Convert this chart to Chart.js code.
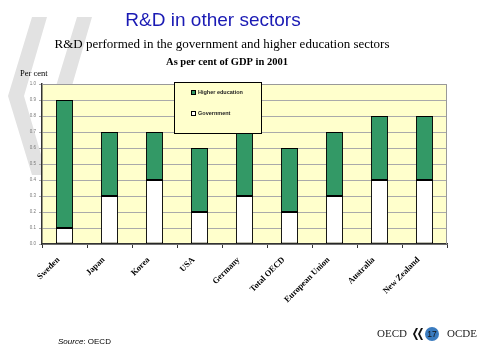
<!DOCTYPE html>
<html>
<head>
<meta charset="utf-8">
<script src="https://cdn.jsdelivr.net/npm/chart.js@4/dist/chart.umd.min.js"></script>
<style>
  html, body { margin: 0; padding: 0; background: #fff; }
  #wrap { width: 483px; height: 348px; position: relative; }
</style>
</head>
<body>
<div id="wrap"><canvas id="rdChart" width="483" height="348"></canvas></div>
<script>
// R&D by sector, per cent of GDP, 2001
const categories = ['Sweden', 'Japan', 'Korea', 'USA', 'Germany', 'Total OECD', 'European Union', 'Australia', 'New Zealand'];
const government = [0.1, 0.3, 0.4, 0.2, 0.3, 0.2, 0.3, 0.4, 0.4];
const higherEducation = [0.8, 0.4, 0.3, 0.4, 0.4, 0.4, 0.4, 0.4, 0.4];
const yMin = 0, yMax = 1.0, yStep = 0.1;

const GREEN = '#339966';
const PLOT_BG = '#ffffcc';

// grey OECD chevrons behind everything, plot background on top of them
const backdrop = {
    id: 'backdrop',
    beforeDraw(chart) {
        const ctx = chart.ctx;
        ctx.save();
        ctx.fillStyle = '#e2e2e2';
        [0, 45].forEach(dx => {
            ctx.beginPath();
            ctx.moveTo(32 + dx, 17);
            ctx.lineTo(47 + dx, 17);
            ctx.lineTo(24 + dx, 96);
            ctx.lineTo(47 + dx, 175);
            ctx.lineTo(32 + dx, 175);
            ctx.lineTo(8 + dx, 96);
            ctx.closePath();
            ctx.fill();
        });
        const a = chart.chartArea;
        ctx.fillStyle = PLOT_BG;
        ctx.fillRect(a.left, a.top, a.right - a.left, a.bottom - a.top);
        ctx.restore();
    },
    beforeDatasetsDraw(chart) {
        const a = chart.chartArea;
        const ctx = chart.ctx;
        ctx.save();
        ctx.strokeStyle = '#999';
        ctx.lineWidth = 1;
        ctx.beginPath();
        ctx.moveTo(a.left, a.top + 0.5);
        ctx.lineTo(a.right - 0.5, a.top + 0.5);
        ctx.lineTo(a.right - 0.5, a.bottom);
        ctx.stroke();
        ctx.restore();
    }
};

// titles, boxed legend, source line and page logo
const decor = {
    id: 'decor',
    afterDraw(chart) {
        const ctx = chart.ctx;
        ctx.save();
        ctx.textBaseline = 'middle';
        ctx.textAlign = 'center';

        ctx.fillStyle = '#1a1ab4';
        ctx.font = '19px "Liberation Sans", Arial, sans-serif';
        ctx.fillText('R&D in other sectors', 213, 21);

        ctx.fillStyle = '#000';
        ctx.font = '13px "Liberation Serif", "Times New Roman", serif';
        ctx.fillText('R&D performed in the government and higher education sectors', 222, 45);
        ctx.font = 'bold 10.5px "Liberation Serif", "Times New Roman", serif';
        ctx.fillText('As per cent of GDP in 2001', 227, 62);

        ctx.textAlign = 'left';
        ctx.font = '8.5px "Liberation Serif", "Times New Roman", serif';
        ctx.fillText('Per cent', 20, 74);

        // legend box
        ctx.fillStyle = PLOT_BG;
        ctx.fillRect(174.5, 82.5, 87, 51);
        ctx.strokeStyle = '#000';
        ctx.lineWidth = 1;
        ctx.strokeRect(174.5, 82.5, 87, 51);
        const items = [
            { label: chart.data.datasets[1].label, color: GREEN, y: 92.5 },
            { label: chart.data.datasets[0].label, color: '#fff', y: 113.5 }
        ];
        ctx.font = 'bold 5.5px "Liberation Sans", Arial, sans-serif';
        items.forEach(it => {
            ctx.fillStyle = it.color;
            ctx.fillRect(191.5, it.y - 2, 4, 4);
            ctx.strokeRect(191.5, it.y - 2, 4, 4);
            ctx.fillStyle = '#222';
            ctx.fillText(it.label, 198, it.y);
        });

        // source
        ctx.fillStyle = '#000';
        ctx.font = 'italic 8px "Liberation Sans", Arial, sans-serif';
        ctx.fillText('Source', 58, 342);
        const w = ctx.measureText('Source').width;
        ctx.font = '8px "Liberation Sans", Arial, sans-serif';
        ctx.fillText(': OECD', 58 + w, 342);

        // OECD logo line
        ctx.font = '11px "Liberation Serif", "Times New Roman", serif';
        ctx.fillStyle = '#222';
        ctx.fillText('OECD', 377, 334);
        ctx.fillText('OCDE', 447, 334);
        ctx.fillStyle = '#111';
        [413, 418].forEach(x => {
            ctx.beginPath();
            ctx.moveTo(x + 3, 328);
            ctx.lineTo(x + 5, 328);
            ctx.lineTo(x + 2, 334);
            ctx.lineTo(x + 5, 340);
            ctx.lineTo(x + 3, 340);
            ctx.lineTo(x, 334);
            ctx.closePath();
            ctx.fill();
        });
        ctx.fillStyle = '#3a7bbf';
        ctx.beginPath();
        ctx.arc(432, 334, 7, 0, Math.PI * 2);
        ctx.fill();
        ctx.fillStyle = '#111';
        ctx.textAlign = 'center';
        ctx.font = '8.5px "Liberation Sans", Arial, sans-serif';
        ctx.fillText('17', 432, 334.5);
        ctx.restore();
    }
};

const ctx = document.getElementById('rdChart').getContext('2d');
new Chart(ctx, {
    type: 'bar',
    data: {
        labels: categories,
        datasets: [
            {
                label: 'Government',
                data: government,
                backgroundColor: '#ffffff',
                borderColor: '#000',
                borderWidth: 1,
                borderSkipped: false,
                barPercentage: 0.38,
                categoryPercentage: 1
            },
            {
                label: 'Higher education',
                data: higherEducation,
                backgroundColor: GREEN,
                borderColor: '#000',
                borderWidth: 1,
                borderSkipped: false,
                barPercentage: 0.38,
                categoryPercentage: 1
            }
        ]
    },
    options: {
        responsive: false,
        animation: false,
        layout: { padding: { top: 84, right: 36, left: 0, bottom: 0 } },
        plugins: {
            legend: { display: false },
            tooltip: { enabled: false }
        },
        scales: {
            x: {
                stacked: true,
                afterFit(scale) { scale.height = 104; },
                grid: {
                    offset: true,
                    drawOnChartArea: false,
                    drawTicks: true,
                    tickLength: 4,
                    color: '#333'
                },
                border: { color: '#333', width: 1.5 },
                ticks: {
                    color: '#000',
                    maxRotation: 45,
                    minRotation: 45,
                    autoSkip: false,
                    padding: 7,
                    labelOffset: -6,
                    font: { family: '"Liberation Serif", "Times New Roman", serif', size: 8.5, weight: 'bold' }
                }
            },
            y: {
                stacked: true,
                min: yMin,
                max: yMax,
                afterFit(scale) { scale.width = 42; },
                grid: {
                    color: '#aaa',
                    tickLength: 3,
                    drawTicks: true
                },
                border: { color: '#333', width: 1.5 },
                ticks: {
                    stepSize: yStep,
                    color: '#777',
                    padding: 3,
                    font: { family: '"Liberation Sans", Arial, sans-serif', size: 4.5 },
                    callback: v => Number(v).toFixed(1)
                }
            }
        }
    },
    plugins: [backdrop, decor]
});
</script>
</body>
</html>
